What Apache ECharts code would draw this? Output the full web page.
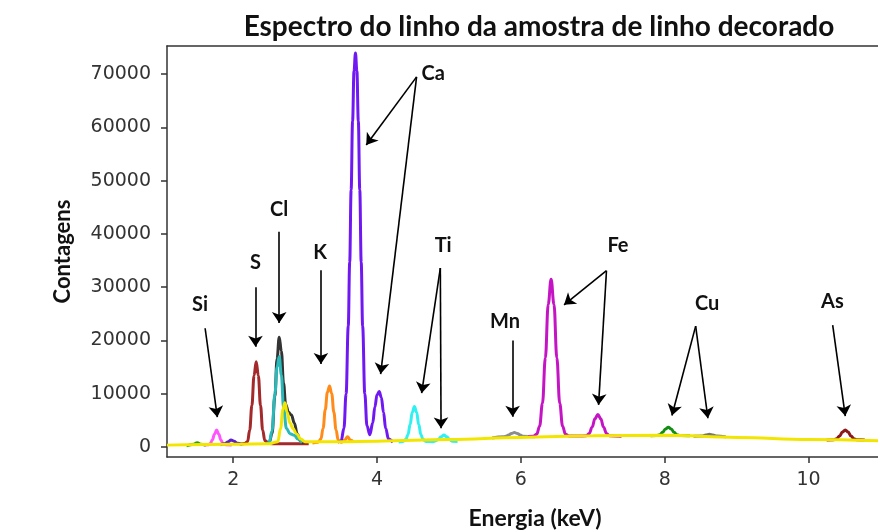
<!DOCTYPE html>
<html style="height: 100%">
<head>
  <meta charset="UTF-8" />
  <title>Espectro do linho</title>
  <script src="https://cdn.jsdelivr.net/npm/echarts@6/dist/echarts.min.js"></script>
</head>
<body style="height: 100%; margin: 0; background: #fff">
  <div id="main" style="width: 878px; height: 530px"></div>
  <script>
    // energy (keV), counts
    const xTicks = [2, 4, 6, 8, 10];
    const yTicks = [0, 10000, 20000, 30000, 40000, 50000, 60000, 70000];

    const greenLow = [[1.35, 200], [1.45, 500], [1.5, 800], [1.55, 500], [1.62, 300]];
    const siPink = [[1.6, 350], [1.65, 400], [1.68, 600], [1.71, 1300], [1.74, 2400], [1.77, 3200], [1.8, 2400], [1.83, 1300], [1.86, 600], [1.9, 400], [1.98, 350]];
    const purpleLow = [[1.82, 400], [1.88, 600], [1.93, 1000], [1.97, 1300], [2.01, 1100], [2.06, 700], [2.12, 500]];
    const sBrown = [[2.1, 500], [2.16, 650], [2.2, 1000], [2.23, 3200], [2.26, 7800], [2.29, 13400], [2.32, 16000], [2.35, 13400], [2.38, 7800], [2.41, 3200], [2.44, 1200], [2.5, 650], [2.6, 600], [2.8, 600], [3.05, 600]];
    const clBlack = [[2.46, 650], [2.5, 800], [2.54, 2500], [2.58, 9500], [2.61, 16500], [2.64, 20600], [2.67, 18000], [2.7, 12000], [2.73, 8000], [2.77, 6500], [2.81, 6000], [2.85, 4500], [2.89, 2500], [2.93, 1200], [2.98, 700]];
    const clTeal = [[2.46, 650], [2.5, 800], [2.54, 3000], [2.58, 10000], [2.61, 15000], [2.64, 17000], [2.67, 13500], [2.7, 7500], [2.74, 3500], [2.79, 2500], [2.85, 2200], [2.9, 1500], [2.96, 800]];
    const kOrange = [[3.1, 750], [3.18, 900], [3.22, 1500], [3.25, 3500], [3.28, 7000], [3.31, 10300], [3.34, 11450], [3.37, 10000], [3.4, 6500], [3.43, 3200], [3.46, 1300], [3.5, 900], [3.55, 1300], [3.59, 1900], [3.63, 1300], [3.68, 900]];
    const caPurple = [[3.45, 900], [3.5, 1100], [3.54, 3500], [3.57, 10000], [3.6, 22700], [3.62, 34700], [3.64, 48300], [3.66, 61200], [3.68, 70600], [3.7, 74000], [3.72, 70600], [3.74, 61200], [3.76, 48300], [3.78, 34700], [3.8, 22700], [3.83, 10000], [3.86, 4000], [3.9, 2300], [3.94, 4500], [3.97, 7500], [4.0, 9800], [4.03, 10400], [4.06, 9300], [4.09, 6500], [4.12, 3500], [4.16, 1500], [4.22, 900]];
    const tiCyan = [[4.3, 950], [4.36, 1050], [4.4, 1400], [4.43, 2300], [4.46, 4200], [4.49, 6500], [4.52, 7600], [4.55, 6500], [4.58, 4200], [4.61, 2300], [4.64, 1400], [4.68, 1050], [4.78, 1000], [4.85, 1350], [4.89, 1900], [4.93, 2250], [4.97, 1900], [5.01, 1350], [5.05, 1100], [5.12, 1050]];
    const mnGray = [[5.6, 1700], [5.75, 1900], [5.79, 2000], [5.83, 2250], [5.87, 2550], [5.91, 2700], [5.95, 2550], [5.99, 2250], [6.03, 2000], [6.2, 1900]];
    const feMagenta = [[6.1, 1950], [6.17, 2000], [6.22, 2400], [6.26, 3900], [6.3, 8200], [6.34, 16700], [6.38, 26800], [6.42, 31500], [6.46, 26800], [6.5, 16700], [6.54, 8200], [6.58, 3900], [6.62, 2400], [6.67, 2050], [6.8, 2050], [6.91, 2100], [6.95, 2550], [6.99, 3700], [7.03, 5300], [7.07, 6100], [7.11, 5300], [7.15, 3700], [7.19, 2550], [7.23, 2100], [7.4, 2000]];
    const cuGreen = [[7.8, 2100], [7.89, 2150], [7.93, 2300], [7.97, 2750], [8.01, 3400], [8.05, 3700], [8.09, 3400], [8.13, 2750], [8.17, 2300], [8.21, 2150], [8.35, 2100]];
    const cuGray = [[8.4, 2000], [8.52, 2050], [8.57, 2250], [8.62, 2400], [8.67, 2250], [8.72, 2050], [8.85, 1900]];
    const asRed = [[10.25, 1300], [10.35, 1350], [10.39, 1550], [10.43, 2050], [10.47, 2800], [10.51, 3200], [10.55, 2800], [10.59, 2050], [10.63, 1550], [10.67, 1350], [10.78, 1300]];
    const baseYellow = [[1.08, 350], [2.0, 500], [2.5, 600], [2.62, 1000], [2.66, 3500], [2.69, 7000], [2.72, 8300], [2.75, 6500], [2.79, 4500], [2.83, 3500], [2.88, 2500], [2.94, 1500], [3.0, 1000], [3.5, 1000], [4.0, 1100], [5.0, 1400], [6.0, 1800], [7.0, 2100], [8.0, 2200], [9.0, 1800], [10.0, 1400], [11.09, 1100]];

    // element labels and arrows, in keV / counts
    const labelNames = ['Si', 'S', 'Cl', 'K', 'Ca', 'Ti', 'Mn', 'Fe', 'Cu', 'As'];
    const labelPos = [[1.54, 26700], [2.31, 34600], [2.64, 44500], [3.21, 36600], [4.78, 70200], [4.92, 37900], [5.78, 23500], [7.35, 37900], [8.59, 27000], [10.33, 27300]];
    const arrows = [
      [[1.61, 22300], [1.78, 5600]],
      [[2.31, 30000], [2.31, 18800]],
      [[2.64, 40400], [2.64, 23300]],
      [[3.22, 33200], [3.22, 15600]],
      [[4.55, 69500], [3.85, 56700]],
      [[4.55, 69500], [4.05, 13700]],
      [[4.88, 33600], [4.62, 10100]],
      [[4.88, 33600], [4.89, 3500]],
      [[5.885, 20000], [5.885, 5700]],
      [[7.19, 33100], [6.6, 26700]],
      [[7.19, 33100], [7.08, 7900]],
      [[8.43, 22700], [8.1, 5900]],
      [[8.43, 22700], [8.6, 5400]],
      [[10.335, 22900], [10.51, 5800]]
    ];

    const chart = echarts.init(document.getElementById('main'));

    function line(data, color) {
      return {
        type: 'line',
        data: data,
        smooth: 0.4,
        smoothMonotone: 'x',
        showSymbol: false,
        silent: true,
        lineStyle: { color: color, width: 3 },
        itemStyle: { color: color }
      };
    }

    const series = [
      line(greenLow, '#2a9d2a'),
      line(siPink, '#ff55ff'),
      line(purpleLow, '#5a22c8'),
      line(sBrown, '#a3292b'),
      line(clBlack, '#333333'),
      line(clTeal, '#2ab8b8'),
      line(kOrange, '#ff8c1a'),
      line(caPurple, '#7018f2'),
      line(tiCyan, '#30f0f0'),
      line(mnGray, '#8c8c8c'),
      line(feMagenta, '#c414c4'),
      line(cuGreen, '#128f12'),
      line(cuGray, '#777777'),
      line(asRed, '#8b1a1a'),
      line(baseYellow, '#f2e600')
    ];

    const last = series[series.length - 1];
    last.markLine = {
      silent: true,
      symbol: ['none', 'arrow'],
      symbolSize: 11,
      label: { show: false },
      lineStyle: { color: '#000', width: 1.6, type: 'solid' },
      emphasis: { disabled: true },
      data: arrows.map(a => [{ coord: a[0] }, { coord: a[1] }])
    };
    last.markPoint = {
      silent: true,
      symbol: 'circle',
      symbolSize: 0,
      label: {
        show: true,
        position: 'inside',
        formatter: p => p.name,
        color: '#111',
        fontFamily: 'Lato',
        fontWeight: 'bold',
        fontSize: 20
      },
      data: labelNames.map((n, i) => ({ name: n, coord: labelPos[i] }))
    };

    const option = {
      animation: false,
      title: {
        text: 'Espectro do linho da amostra de linho decorado',
        left: 534,
        textAlign: 'center',
        top: 8,
        textStyle: { fontFamily: 'Lato', fontWeight: 'bold', fontSize: 28, color: '#111' }
      },
      grid: {
        left: 167,
        top: 46,
        width: 720,
        height: 411,
        outerBoundsMode: 'none'
      },
      xAxis: [{
        type: 'value',
        min: 1.08,
        max: 11.09,
        name: 'Energia (keV)',
        nameLocation: 'middle',
        nameGap: 50,
        nameTextStyle: { fontFamily: 'Lato', fontWeight: 'bold', fontSize: 23, color: '#111', padding: [0, 0, 0, 16] },
        axisLine: { show: true, onZero: false, lineStyle: { color: '#333', width: 1.5 } },
        axisTick: { show: true, inside: false, length: 6, customValues: xTicks, lineStyle: { color: '#333', width: 1.5 } },
        axisLabel: { customValues: xTicks, margin: 14, fontFamily: 'DejaVu Sans', fontSize: 19, color: '#333' },
        splitLine: { show: false }
      }, {
        // top frame line
        type: 'value',
        position: 'top',
        min: 1.08,
        max: 11.09,
        axisLine: { show: true, onZero: false, lineStyle: { color: '#333', width: 1.5 } },
        axisTick: { show: false },
        axisLabel: { show: false },
        splitLine: { show: false }
      }],
      yAxis: {
        type: 'value',
        min: -1880,
        max: 75300,
        name: 'Contagens',
        nameLocation: 'middle',
        nameGap: 93,
        nameRotate: 90,
        nameTextStyle: { fontFamily: 'Lato', fontWeight: 'bold', fontSize: 22, color: '#111' },
        axisLine: { show: true, onZero: false, lineStyle: { color: '#333', width: 1.5 } },
        axisTick: { show: true, inside: false, length: 6, customValues: yTicks, lineStyle: { color: '#333', width: 1.5 } },
        axisLabel: { customValues: yTicks, formatter: v => String(v), margin: 16, fontFamily: 'DejaVu Sans', fontSize: 19, color: '#333' },
        splitLine: { show: false }
      },
      series: series
    };

    chart.setOption(option);
  </script>
</body>
</html>
